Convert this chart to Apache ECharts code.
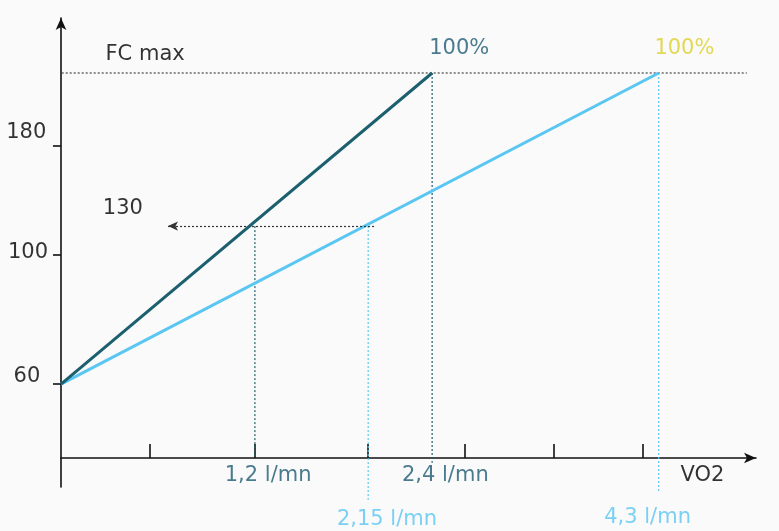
<!DOCTYPE html>
<html>
<head>
<meta charset="utf-8">
<script src="https://cdn.jsdelivr.net/npm/echarts@6/dist/echarts.min.js"></script>
<style>
html,body{margin:0;padding:0;background:#fafafa;}
#chart{width:779px;height:531px;}
</style>
</head>
<body>
<div id="chart"></div>
<script>
// Schematic chart: positions are in schematic axis units (x: 0..100, y: -6.6..100)
// Heart-rate levels (schematic y positions)
const hrRestPos = 16.8;      // 60
const hr130Pos = 52.7;       // 130
const hrMaxPos = 87.5;       // FC max
const yTickPos = [16.8, 46.1, 70.9];        // ticks for 60, 100, 180
const yTickLabels = ['60', '100', '180'];
const yLabelPos = [[-4.9, 18.6], [-4.75, 46.6], [-5.0, 73.9]];

// VO2 levels (schematic x positions)
const vo2Dark130 = 27.9;     // 1,2 l/mn
const vo2Light130 = 44.2;    // 2,15 l/mn
const vo2DarkMax = 53.4;     // 2,4 l/mn
const vo2LightMax = 86.0;    // 4,3 l/mn
const xTickPos = [12.8, 27.9, 44.2, 58.1, 70.9, 83.7];

// Series: two linear HR-VO2 relations
const darkLine = [[0, hrRestPos], [vo2DarkMax, hrMaxPos]];
const lightLine = [[0, hrRestPos], [vo2LightMax, hrMaxPos]];

// Dotted guide lines: [from, to, colour]
const DARK = '#1c5f6e';
const LIGHT = '#5ac6f2';
const TEXT_DARK = '#1d5a72';
const YELLOW = '#ddd02a';
const FONT = 'DejaVu Sans';

const guides = [
  [[0.1, hrMaxPos], [98.7, hrMaxPos], '#444'],
  [[vo2Dark130, hr130Pos], [vo2Dark130, 0], DARK],
  [[vo2Light130, hr130Pos], [vo2Light130, -9.5], LIGHT],
  [[vo2DarkMax, hrMaxPos], [vo2DarkMax, -1.1], DARK],
  [[vo2LightMax, hrMaxPos], [vo2LightMax, -7.7], LIGHT]
];

// Text annotations: [x, y, text, colour]
const annotations = [
  [12.1, 91.6, 'FC max', '#000'],
  [8.9, 56.6, '130', '#000'],
  [57.3, 93.0, '100%', TEXT_DARK],
  [89.7, 93.0, '100%', YELLOW],
  [29.8, -4.1, '1,2 l/mn', TEXT_DARK],
  [55.3, -4.1, '2,4 l/mn', TEXT_DARK],
  [92.3, -4.1, 'VO2', '#000'],
  [46.9, -14.1, '2,15 l/mn', LIGHT],
  [84.4, -13.6, '4,3 l/mn', LIGHT]
];
yTickLabels.forEach((t, i) => annotations.push([yLabelPos[i][0], yLabelPos[i][1], t, '#000']));

const chart = echarts.init(document.getElementById('chart'));

const guideSeries = guides.map(g => ({
  type: 'line', data: [g[0], g[1]], symbol: 'none', clip: false, silent: true, z: 2,
  lineStyle: {color: g[2], type: [2, 2], width: 1.2}
}));

chart.setOption({
  backgroundColor: '#fafafa',
  animation: false,
  grid: {left: 61, top: 18, width: 695, height: 469, containLabel: false},
  xAxis: {
    type: 'value', min: 0, max: 100,
    axisLine: {onZero: true, lineStyle: {color: '#111', width: 1.6}, symbol: ['none', 'arrow'], symbolSize: [8, 12], symbolOffset: [0, 0]},
    axisTick: {show: true, inside: true, length: 14, lineStyle: {color: '#111', width: 1.6}, customValues: xTickPos},
    axisLabel: {show: false},
    splitLine: {show: false}
  },
  yAxis: {
    type: 'value', min: -6.6, max: 100,
    axisLine: {onZero: false, lineStyle: {color: '#111', width: 1.6}, symbol: ['none', 'arrow'], symbolSize: [8, 12], symbolOffset: [0, 0]},
    axisTick: {show: true, inside: false, length: 8, lineStyle: {color: '#111', width: 1.6}, customValues: yTickPos},
    axisLabel: {show: false},
    splitLine: {show: false}
  },
  series: guideSeries.concat([
    {
      type: 'line', data: darkLine, symbol: 'none', clip: false, z: 5,
      lineStyle: {color: DARK, width: 3}
    },
    {
      type: 'line', data: lightLine, symbol: 'none', clip: false, z: 4,
      lineStyle: {color: LIGHT, width: 3}
    },
    {
      type: 'line', data: [], symbol: 'none',
      markLine: {
        silent: true, label: {show: false}, animation: false,
        data: [[
          {coord: [15.4, hr130Pos], symbol: 'arrow', symbolSize: [7, 10],
           lineStyle: {color: '#333', type: [2, 2], width: 1.2}},
          {coord: [45.3, hr130Pos], symbol: 'none'}
        ]]
      }
    },
    {
      type: 'scatter', symbolSize: 0, clip: false, silent: true, z: 10,
      data: annotations.map(a => ({
        value: [a[0], a[1]],
        label: {show: true, position: 'inside', formatter: a[2], color: a[3],
                fontFamily: FONT, fontSize: 21, align: 'center', verticalAlign: 'middle'}
      }))
    }
  ])
});
</script>
</body>
</html>
